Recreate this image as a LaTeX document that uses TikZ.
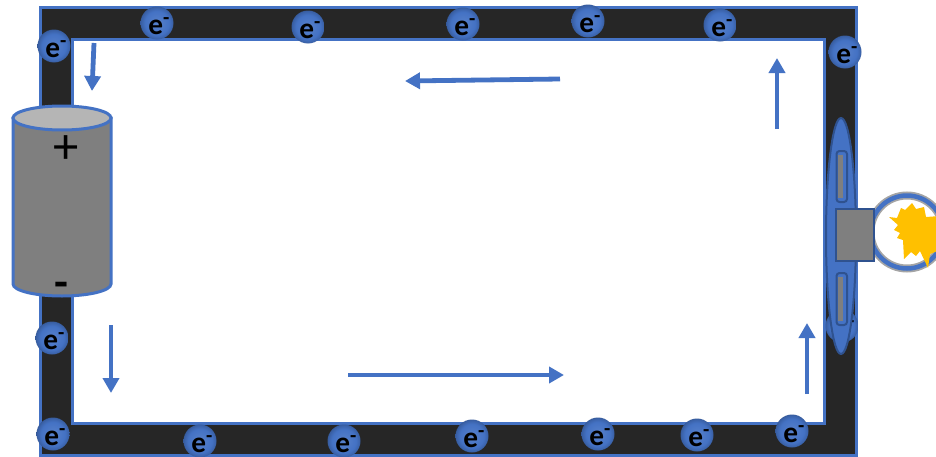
\documentclass[tikz,border=0pt]{standalone}
\usepackage{fontspec}
\setmainfont{Carlito}
\usetikzlibrary{arrows.meta}
\definecolor{wireblue}{HTML}{4472C4}
\definecolor{darkblue}{HTML}{2F528F}
\definecolor{wireblack}{HTML}{262626}
\definecolor{cellgray}{HTML}{7F7F7F}
\definecolor{captop}{HTML}{B5B5B5}
\definecolor{ringgray}{HTML}{A5A5A5}
\definecolor{sparkyellow}{HTML}{FFC000}
\pgfdeclareradialshading{electronball}{\pgfpoint{0bp}{0bp}}{color(0bp)=(wireblue!90!white); color(18bp)=(wireblue); color(24bp)=(wireblue!85!black); color(30bp)=(wireblue!62!black); color(100bp)=(wireblue!62!black)}
\newcommand{\elabel}{\raisebox{-8.6pt}[0pt][0pt]{\makebox[0pt]{\hspace{3.4pt}e\textsuperscript{-}}}}
\tikzset{
  electron/.style={circle,minimum size=33*0.75pt,inner sep=0pt,font=\fontsize{22}{22}\bfseries,text=black,
    shading=electronball},
  flowarrow/.style={draw=wireblue,line width=4.8*0.75pt,-{Triangle[length=15*0.75pt,width=16*0.75pt,fill=wireblue]}},
  signlabel/.style={inner sep=0pt,font=\fontsize{38}{38}\selectfont},
}
\begin{document}
\begin{tikzpicture}[x=0.75pt,y=-0.75pt]
  \useasboundingbox (0,0) rectangle (936,457);
  \fill[white] (0,0) rectangle (936,457);
  % wire
  \fill[wireblack,even odd rule] (40,7) rectangle (856,455) (72,39) rectangle (824,423);
  \draw[wireblue,line width=3*0.75pt] (40,7) rectangle (856,455);
  \draw[wireblue,line width=3*0.75pt] (72,39) rectangle (824,423);

  % electrons
  \node[electron] (top1) at (157,23) {\elabel};
  \node[electron] (top2) at (308,27) {\elabel};
  \node[electron] (top3) at (463,24) {\elabel};
  \node[electron] (top4) at (588,21) {\elabel};
  \node[electron] (top5) at (720,25) {\elabel};
  \node[electron] (left1) at (54,46) {\elabel};
  \node[electron] (right1) at (845,52) {\elabel};
  \node[electron] (right2) at (842,326) {\elabel};
  \node[electron] (left2) at (52,338) {\elabel};
  \node[electron] (bot1) at (53,434) {\elabel};
  \node[electron] (bot2) at (200,441) {\elabel};
  \node[electron] (bot3) at (344,441) {\elabel};
  \node[electron] (bot4) at (472,436) {\elabel};
  \node[electron] (bot5) at (598,434) {\elabel};
  \node[electron] (bot6) at (697,435) {\elabel};
  \node[electron] (bot7) at (792,431) {\elabel};

  % battery
  \filldraw[fill=cellgray,draw=wireblue,line width=3*0.75pt] (13,118)--(13,284) arc[start angle=180,end angle=0,x radius=49,y radius=12]--(111,118)--cycle;
  \filldraw[fill=captop,draw=wireblue,line width=3*0.75pt] (62,118) ellipse[x radius=49,y radius=12];
  \node[signlabel] (plus) at (66,150) {+};
  \node[signlabel,font=\fontsize{34}{34}\bfseries] (minus) at (61,290) {-};

  % bulb
  \draw[ringgray,line width=8*0.75pt] (907,232) circle[radius=36.5];
  \draw[wireblue,line width=4.5*0.75pt] (907,232) circle[radius=36.5];
  \fill[sparkyellow] (889,217)--(897,218)--(901,208)--(905,210)--(912,203)--(916,209)--(924,207)--(926,217)--(940,216)--(940,250)--(930,254)--(928,268)--(920,251)--(916,256)--(911,252)--(904,259)--(903,240)--(897,238)--(900,233)--(894,230)--(898,225)--cycle;
  \filldraw[fill=wireblue,draw=darkblue,line width=2*0.75pt] (841,236) ellipse[x radius=15,y radius=118];
  \filldraw[fill=wireblue,draw=darkblue,line width=2*0.75pt,rounded corners=3*0.75pt] (836.5,151) rectangle (847,202);
  \filldraw[fill=wireblue,draw=darkblue,line width=2*0.75pt,rounded corners=3*0.75pt] (836.5,273) rectangle (847,325);
  \fill[cellgray] (838,155) rectangle (843,198);
  \fill[cellgray] (838,277) rectangle (843,321);
  \filldraw[fill=cellgray,draw=darkblue,line width=2.5*0.75pt] (836,209) rectangle (874,261);

  % current arrows
  \draw[flowarrow] (94,43)--(92,91);
  \draw[flowarrow] (560,79)--(405,81);
  \draw[flowarrow] (777,129)--(777,58);
  \draw[flowarrow] (807,394)--(807,323);
  \draw[flowarrow] (348,375)--(564,375);
  \draw[flowarrow] (111,325)--(111,393);
\end{tikzpicture}
\end{document}
